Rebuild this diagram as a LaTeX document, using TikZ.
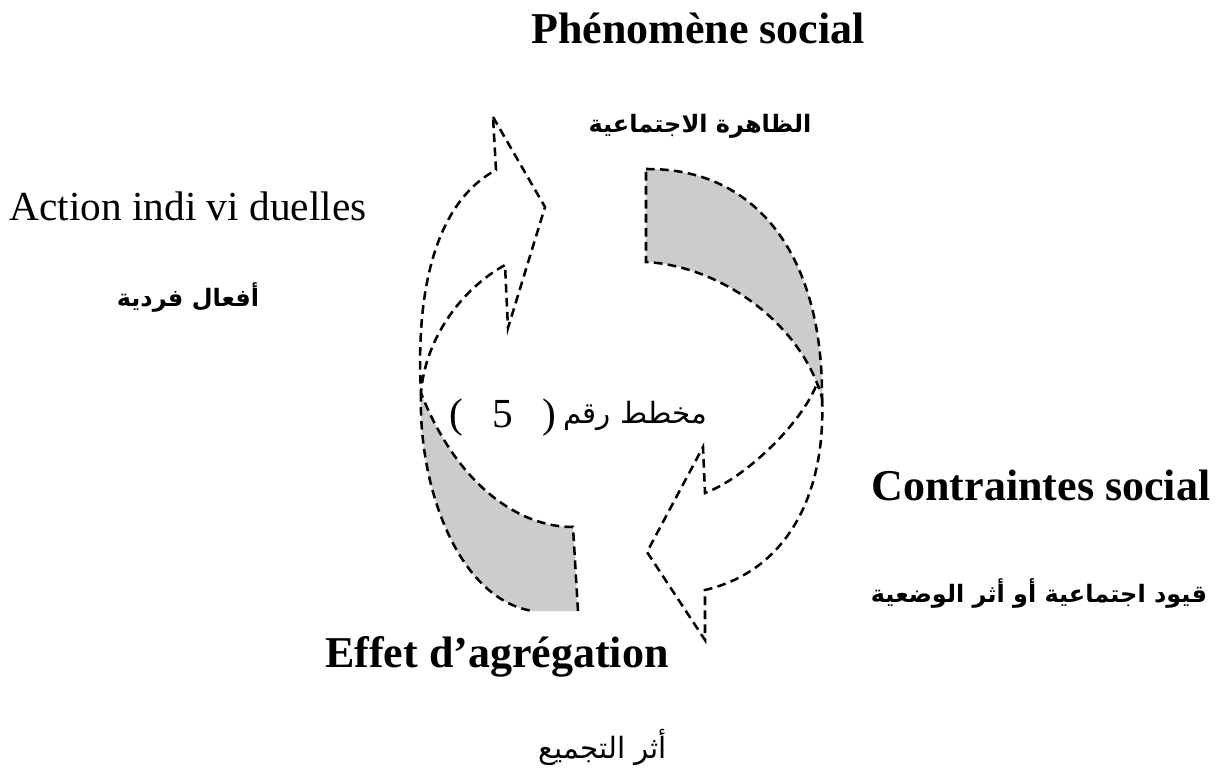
\documentclass[tikz,border=0pt]{standalone}
\usepackage{fontspec}
\setmainfont{Liberation Serif}
\newfontfamily\arabicfont[Script=Arabic]{DejaVu Sans}
\TeXXeTstate=1

\tikzset{
  dline/.style={draw=black, line width=1.9pt, dash pattern=on 6.5pt off 4pt, line join=miter},
  bandfill/.style={fill=black!20},
  latbold/.style={font=\fontsize{33}{40}\selectfont\bfseries, inner sep=0pt, anchor=base},
  latreg/.style={font=\fontsize{31}{38}\selectfont, inner sep=0pt, anchor=base},
  arbold/.style={font=\arabicfont\bfseries\fontsize{18}{22}\selectfont, inner sep=0pt},
  arreg/.style={font=\arabicfont\fontsize{22}{26}\selectfont, inner sep=0pt},
}

\begin{document}
\begin{tikzpicture}[x=0.75pt, y=-0.75pt]
  \useasboundingbox (0,0) rectangle (1222,776);

  % ---- key points of the left (upward) arrow and its shaded twist
  \coordinate (Ltip)   at (493,117);
  \coordinate (Lbarb)  at (545,207);
  \coordinate (Lnotch) at (508,328);
  \coordinate (Lin)    at (505,265);
  \coordinate (Lcross) at (421,393);
  \coordinate (Lout)   at (496,170);
  \coordinate (Lbo)    at (533,611);
  \coordinate (Lbr)    at (578,611);
  \coordinate (Ltr)    at (573,527);

  % ---- key points of the right (downward) arrow and its shaded twist
  \coordinate (Rtl)    at (646,169);
  \coordinate (Rbl)    at (646,262);
  \coordinate (Rtip)   at (822,398);
  \coordinate (Rout)   at (705,590);
  \coordinate (Rbar)   at (705,640);
  \coordinate (Rhead)  at (647,552);
  \coordinate (Rbar2)  at (703,447);
  \coordinate (Rnotch) at (705,493);
  \coordinate (Rin)    at (816,386);

  % shaded back of the left arrow
  \fill[bandfill] (Lcross) .. controls (418,490) and (460,600) .. (Lbo)
    -- (Lbr) -- (Ltr) .. controls (515,527) and (455,480) .. (Lcross) -- cycle;
  \draw[dline] (Lcross) .. controls (418,490) and (460,600) .. (Lbo);
  \draw[dline] (Lbr) -- (Ltr) .. controls (515,527) and (455,480) .. (Lcross);

  % front of the left arrow with its head
  \draw[dline] (Ltip) -- (Lbarb) -- (Lnotch) -- (Lin)
    .. controls (460,290) and (425,340) .. (Lcross)
    .. controls (415,280) and (440,200) .. (Lout) -- cycle;

  % shaded back of the right arrow
  \filldraw[bandfill, dline] (Rtl) .. controls (760,168) and (823,260) .. (Rtip)
    .. controls (802,325) and (722,266) .. (Rbl) -- cycle;

  % front of the right arrow with its head
  \draw[dline] (Rtip) .. controls (826,490) and (790,570) .. (Rout)
    -- (Rbar) -- (Rhead) -- (Rbar2) -- (Rnotch)
    .. controls (745,478) and (800,425) .. (Rin);

  % ---- labels
  \node[latbold] (phen) at (698,43) {Phénomène social};
  \node[arbold] (phenAr) at (700,126) {\beginR الظاهرة الاجتماعية\endR};

  \node[latreg] (act) at (188,220) {Action indi vi duelles};
  \node[arbold] (actAr) at (188,298) {\beginR أفعال فردية\endR};

  \node[latreg] (num) at (503,427) {(\hspace{22pt}5\hspace{22pt})};
  \node[arreg] (numAr) at (635,416) {\beginR مخطط رقم\endR};

  \node[latbold] (contr) at (1041,500) {Contraintes social};
  \node[arbold] (contrAr) at (1039,594) {\beginR قيود اجتماعية أو أثر الوضعية\endR};

  \node[latbold] (agr) at (497,667) {Effet d’agrégation};
  \node[arreg] (agrAr) at (603,747) {\beginR أثر التجميع\endR};
\end{tikzpicture}
\end{document}
